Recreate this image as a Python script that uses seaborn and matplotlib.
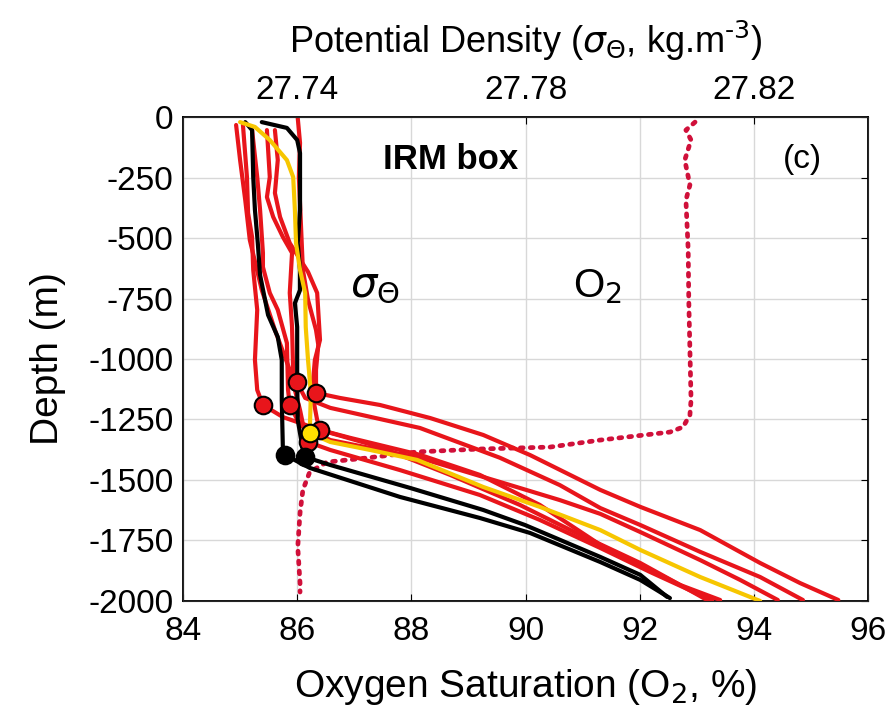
import matplotlib
matplotlib.use("Agg")
import matplotlib.pyplot as plt
import seaborn as sns

# -----------------------------------------
# Data
# density profiles (top axis, kg m-3) and depth (m)
# -----------------------------------------
red1_dens = [27.7401, 27.7405, 27.7403, 27.7407, 27.7410, 27.7419, 27.7433, 27.7437, 27.7433, 27.7433,
             27.7475, 27.7545, 27.7633, 27.7726, 27.7808, 27.7931, 27.8001, 27.8106, 27.8211, 27.8281, 27.8348]
red1_depth = [-4, -107, -248, -467, -632, -756, -880, -942, -1045, -1140,
              -1161, -1190, -1244, -1314, -1397, -1541, -1611, -1707, -1843, -1926, -1996]

red2_dens = [27.7347, 27.7352, 27.7347, 27.7358, 27.7375, 27.7391, 27.7387, 27.7391,
             27.7393, 27.7400, 27.7414, 27.7458, 27.7615, 27.7755, 27.7860, 27.7931, 27.8001, 27.8106,
             27.8211, 27.8286]
red2_depth = [-54, -248, -331, -413, -496, -562, -727, -868,
              -1058, -1099, -1161, -1202, -1285, -1408, -1521, -1616, -1686, -1797,
              -1901, -1996]

red3_dens = [27.7321, 27.7330, 27.7335, 27.7340, 27.7340, 27.7352, 27.7366, 27.7382, 27.7384, 27.7387,
             27.7405, 27.7458, 27.7615, 27.7755, 27.7860, 27.7931, 27.8001, 27.8106, 27.8176, 27.8242]
red3_depth = [-54, -248, -384, -562, -620, -727, -797, -934, -1128, -1190,
              -1273, -1335, -1409, -1508, -1583, -1640, -1715, -1831, -1913, -1996]

red4_dens = [27.7305, 27.7312, 27.7314, 27.7321, 27.7323, 27.7330, 27.7326, 27.7330, 27.7340,
             27.7375, 27.7440, 27.7545, 27.7668, 27.7790, 27.7896, 27.8001, 27.8071, 27.8118]
red4_depth = [-33, -248, -397, -496, -632, -797, -1004, -1128, -1190,
              -1240, -1293, -1364, -1479, -1603, -1727, -1843, -1934, -1996]

red5_dens = [27.7361, 27.7366, 27.7361, 27.7370, 27.7387, 27.7419, 27.7435, 27.7440, 27.7431,
             27.7426, 27.7435, 27.7440, 27.7493, 27.7615, 27.7720, 27.7825, 27.7931, 27.8001, 27.8071,
             27.8141]
red5_depth = [-54, -178, -314, -413, -521, -640, -727, -921, -1004,
              -1140, -1252, -1293, -1326, -1396, -1479, -1603, -1768, -1851, -1934,
              -1996]

red6_dens = [27.7293, 27.7300, 27.7309, 27.7317, 27.7338, 27.7361, 27.7387, 27.7405, 27.7414, 27.7419,
             27.7458, 27.7580, 27.7720, 27.7825, 27.7931, 27.8018, 27.8106, 27.8127]
red6_depth = [-33, -178, -343, -508, -715, -880, -1045, -1211, -1314, -1343,
              -1376, -1459, -1562, -1665, -1781, -1880, -1975, -1996]

black1_dens = [27.7309, 27.7321, 27.7323, 27.7326, 27.7331, 27.7335, 27.7349, 27.7366, 27.7373, 27.7373,
               27.7375, 27.7379, 27.7422, 27.7580, 27.7720, 27.7808, 27.7931, 27.8001, 27.8053]
black1_depth = [-21, -54, -248, -384, -521, -653, -818, -909, -1004, -1169,
                -1376, -1397, -1450, -1570, -1657, -1719, -1839, -1913, -1988]

black2_dens = [27.7338, 27.7382, 27.7400, 27.7405, 27.7405, 27.7401, 27.7405, 27.7405, 27.7396, 27.7400,
               27.7400, 27.7401, 27.7410, 27.7414, 27.7458, 27.7598, 27.7726, 27.7799, 27.7931, 27.8001,
               27.8048]
black2_depth = [-21, -45, -95, -149, -384, -521, -632, -715, -769, -868,
                -1087, -1252, -1376, -1405, -1438, -1533, -1624, -1686, -1818, -1892,
                -1983]

yellow_dens = [27.7300, 27.7326, 27.7352, 27.7382, 27.7393, 27.7396, 27.7398, 27.7405, 27.7414, 27.7415,
               27.7419, 27.7424, 27.7422, 27.7458, 27.7528, 27.7610, 27.7726, 27.7825, 27.7931, 27.8001,
               27.8106, 27.8211]
yellow_depth = [-21, -41, -95, -178, -248, -384, -521, -632, -727, -868,
                -1004, -1140, -1306, -1343, -1376, -1417, -1529, -1611, -1707, -1789,
                -1901, -2000]

# mixed layer depth markers
mld_dens = [27.7433, 27.7400, 27.7387, 27.7340, 27.7440, 27.7419]
mld_depth = [-1140, -1095, -1190, -1190, -1293, -1343]
mld_black_dens = [27.7379, 27.7414]
mld_black_depth = [-1397, -1405]
mld_yellow_dens = [27.7422]
mld_yellow_depth = [-1306]

# oxygen saturation profile (bottom axis, %)
o2_sat = [92.97, 92.81, 92.90, 92.79, 92.88, 92.81, 92.85, 92.86, 92.88, 92.90,
          92.88, 92.76, 92.53, 91.31, 90.43, 89.20, 88.10, 87.22, 86.52, 86.22,
          86.10, 86.05, 86.01, 86.05, 86.05]
o2_depth = [-21, -54, -95, -178, -281, -343, -550, -756, -963, -1169,
            -1231, -1281, -1302, -1335, -1364, -1372, -1384, -1409, -1426, -1467,
            -1541, -1636, -1777, -1926, -1963]

RED = "#e8151b"
BLACK = "#000000"
YELLOW = "#f7c600"
DOTRED = "#d0103a"

# -----------------------------------------
# Style
# -----------------------------------------
sns.set_style("white")
plt.rcParams["font.family"] = ["Liberation Sans", "DejaVu Sans"]
plt.rcParams["axes.unicode_minus"] = False
plt.rcParams["mathtext.fontset"] = "dejavusans"
for k in ["text.color", "axes.labelcolor", "xtick.color", "ytick.color"]:
    plt.rcParams[k] = "black"

fig, ax = plt.subplots(figsize=(8.91, 7.14), dpi=100)
fig.subplots_adjust(left=0.2054, right=0.9742, top=0.8361, bottom=0.1583)

# O2 on bottom axis
sns.lineplot(x=o2_sat, y=o2_depth, sort=False, estimator=None, ax=ax,
             color=DOTRED, lw=3.4, linestyle=(0, (0.6, 1.5)), dash_capstyle="round")

ax.set_xlim(84, 96)
ax.set_ylim(-2000, 0)
ax.set_xticks(range(84, 97, 2))
ax.set_yticks(range(-2000, 1, 250))
ax.grid(True, color="#d8d8d8", lw=1)
ax.set_axisbelow(True)
ax.tick_params(direction="in", length=5, labelsize=24, right=True, top=False, color="black")
ax.tick_params(axis="x", pad=11)
ax.tick_params(axis="y", pad=7)
ax.set_xlabel("Oxygen Saturation (O$_2$, %)", fontsize=28, labelpad=14)
ax.set_ylabel("Depth (m)", fontsize=28, labelpad=16)
for s in ax.spines.values():
    s.set_linewidth(1.3)
    s.set_color("black")

# density on top axis
ax2 = ax.twiny()
ax2.set_xlim(27.72, 27.84)
ax2.set_xticks([27.74, 27.78, 27.82])
ax2.set_xticklabels(["27.74", "27.78", "27.82"])
ax2.tick_params(direction="in", length=5, labelsize=24, pad=8)
ax2.set_xlabel(r"Potential Density ($\sigma_\Theta$, kg.m$^{\text{-3}}$)", fontsize=26, labelpad=16)
ax2.grid(False)

lw = 3.0
for d, z in [(red1_dens, red1_depth), (red2_dens, red2_depth), (red3_dens, red3_depth),
             (red4_dens, red4_depth), (red5_dens, red5_depth), (red6_dens, red6_depth)]:
    sns.lineplot(x=d, y=z, sort=False, estimator=None, ax=ax2, color=RED, lw=lw)
for d, z in [(black1_dens, black1_depth), (black2_dens, black2_depth)]:
    sns.lineplot(x=d, y=z, sort=False, estimator=None, ax=ax2, color=BLACK, lw=lw)
sns.lineplot(x=yellow_dens, y=yellow_depth, sort=False, estimator=None, ax=ax2, color=YELLOW, lw=lw)

sns.scatterplot(x=mld_dens, y=mld_depth, ax=ax2, color=RED, s=160,
                edgecolor="black", linewidth=1.5, zorder=5)
sns.scatterplot(x=mld_black_dens, y=mld_black_depth, ax=ax2, color=BLACK, s=160,
                edgecolor="black", linewidth=1.5, zorder=5)
sns.scatterplot(x=mld_yellow_dens, y=mld_yellow_depth, ax=ax2, color="#ffe000", s=160,
                edgecolor="black", linewidth=1.5, zorder=6)
ax2.set_ylim(-2000, 0)

# annotations
ax.text(0.39, 0.912, "IRM box", transform=ax.transAxes, fontsize=25,
        fontweight="bold", ha="center", va="center")
ax.text(0.905, 0.912, "(c)", transform=ax.transAxes, fontsize=24, ha="center", va="center")
ax.text(0.28, 0.65, r"$\sigma_\Theta$", transform=ax.transAxes, fontsize=30, ha="center", va="center")
ax.text(0.605, 0.65, "O$_2$", transform=ax.transAxes, fontsize=29, ha="center", va="center")

plt.savefig("out.png", dpi=100)
